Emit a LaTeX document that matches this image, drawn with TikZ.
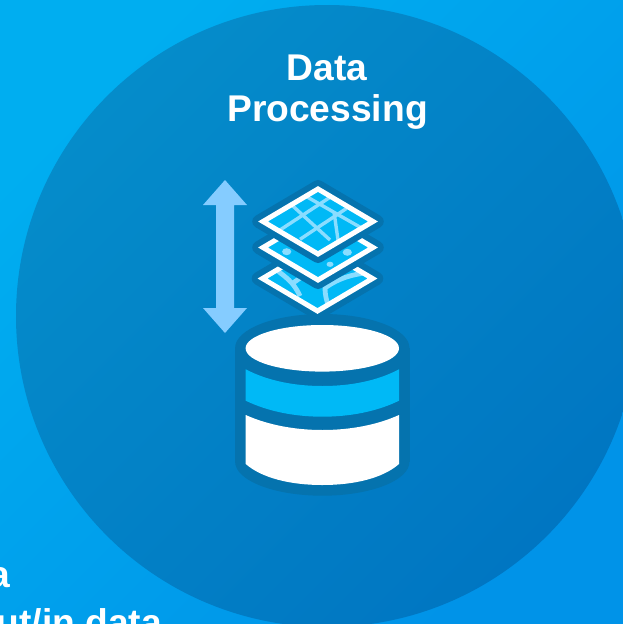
\documentclass[tikz,border=0pt]{standalone}
\usepackage{fontspec}
\setmainfont{Liberation Sans}
\definecolor{bgA}{HTML}{00AEF0}
\definecolor{bgM}{HTML}{00A8EE}
\definecolor{bgB}{HTML}{0093E8}
\definecolor{discA}{HTML}{058CCA}
\definecolor{discM}{HTML}{0586C7}
\definecolor{discB}{HTML}{0076C2}
\definecolor{halo}{HTML}{0573AE}
\definecolor{sky}{HTML}{00B9F6}
\definecolor{pale}{HTML}{8ADDFF}
\definecolor{arrowblue}{HTML}{85CCFF}
\definecolor{nextdisc}{HTML}{0578B8}
\tikzset{
  x=1pt,y=-1pt,
  title/.style={text=white,font=\bfseries\fontsize{37.2}{41}\selectfont,inner sep=0pt,outer sep=0pt},
  layerhalo/.style={draw=halo,fill=halo,line width=13pt,line join=round},
  layerfill/.style={fill=sky},
  layeredge/.style={draw=white,line width=5pt,line join=miter},
  mapline/.style={draw=pale,line width=3.4pt},
  roadline/.style={draw=pale,line width=4.8pt}
}
\begin{document}
\begin{tikzpicture}
\useasboundingbox (0,0) rectangle (623,624);
\clip (0,0) rectangle (623,624);
\shade[left color=bgA,middle color=bgM,right color=bgB,shading angle=45] (0,0) rectangle (623,624);
\shade[left color=discA,middle color=discM,right color=discB,shading angle=45] (327,316) circle[radius=311];
\fill[nextdisc] (931,316) circle[radius=311];

\node[title,anchor=base] (t1) at (327,80) {Data};
\node[title,anchor=base] (t2) at (327.5,121) {Processing};
\node[title,anchor=base east] (t3) at (10,587) {a};
\node[title,anchor=base east] (t4) at (162,635) {ut/in data};

% double arrow
\fill[arrowblue] (225,180) -- (247,205) -- (234,205) -- (234,308) -- (247,308) -- (225,333) -- (203,308) -- (216,308) -- (216,205) -- (203,205) -- cycle;

% cylinder
\fill[halo] (322.3,348) ellipse[x radius=87.2,y radius=34];
\fill[halo] (322.3,461.7) ellipse[x radius=87.2,y radius=34];
\fill[halo] (235.1,348) rectangle (409.5,461.7);
\fill[white] (322.3,348.3) ellipse[x radius=76.7,y radius=23.3];
\fill[sky] (245.7,369.3) .. controls (268,381) and (295,386) .. (322.3,386) .. controls (350,386) and (377,381) .. (399,369.3) -- (399,400.7) .. controls (377,411.5) and (350,416.7) .. (322.3,416.7) .. controls (295,416.7) and (268,411.5) .. (245.7,400.7) -- cycle;
\fill[white] (245.7,415) .. controls (268,425) and (295,430) .. (322.3,430) .. controls (350,430) and (377,425) .. (399,415) -- (399,464) .. controls (383,478) and (355,485) .. (322.3,485) .. controls (290,485) and (262,478) .. (245.7,464) -- cycle;

% bottom layer
\path[layerhalo] (258.2,278.5) -- (317.5,243.5) -- (376.8,278.5) -- (317.5,313.5) -- cycle;
\begin{scope}
\clip (262.5,278.5) -- (317.5,246) -- (372.5,278.5) -- (317.5,311) -- cycle;
\fill[sky] (250,240) rectangle (385,315);
\draw[roadline] (278,271) .. controls (285,277) and (293,281) .. (300,296);
\draw[roadline] (293,283) -- (303,276);
\draw[roadline] (330,310) .. controls (326,300) and (325,294) .. (325,288) .. controls (340,277) and (355,274) .. (372,272);
\end{scope}
\path[layeredge] (262.5,278.5) -- (317.5,246) -- (372.5,278.5) -- (317.5,311) -- cycle;

% middle layer
\path[layerhalo] (258.7,247.5) -- (318,212.5) -- (377.3,247.5) -- (318,282.5) -- cycle;
\path[layerfill] (263,247.5) -- (318,215) -- (373,247.5) -- (318,280) -- cycle;
\path[layeredge] (263,247.5) -- (318,215) -- (373,247.5) -- (318,280) -- cycle;
\fill[pale] (286.7,251.7) ellipse[x radius=4.6,y radius=3.5];
\fill[pale] (347.3,252.3) ellipse[x radius=4.6,y radius=3.5];
\fill[pale] (330,264.3) ellipse[x radius=3.5,y radius=2.6];

% top layer
\path[layerhalo] (258.7,221.5) -- (318,186.5) -- (377.3,221.5) -- (318,256.5) -- cycle;
\begin{scope}
\clip (263,221.5) -- (318,189) -- (373,221.5) -- (318,254) -- cycle;
\fill[sky] (250,180) rectangle (385,260);
\draw[mapline] (280,230) -- (330,197.3);
\draw[mapline] (300,239.3) -- (346.7,208.3);
\draw[mapline] (291.7,205) -- (330,240);
\draw[mapline] (306.7,196.7) -- (365,230);
\draw[mapline] (334,212) -- (338.3,242);
\end{scope}
\path[layeredge] (263,221.5) -- (318,189) -- (373,221.5) -- (318,254) -- cycle;
\end{tikzpicture}
\end{document}
